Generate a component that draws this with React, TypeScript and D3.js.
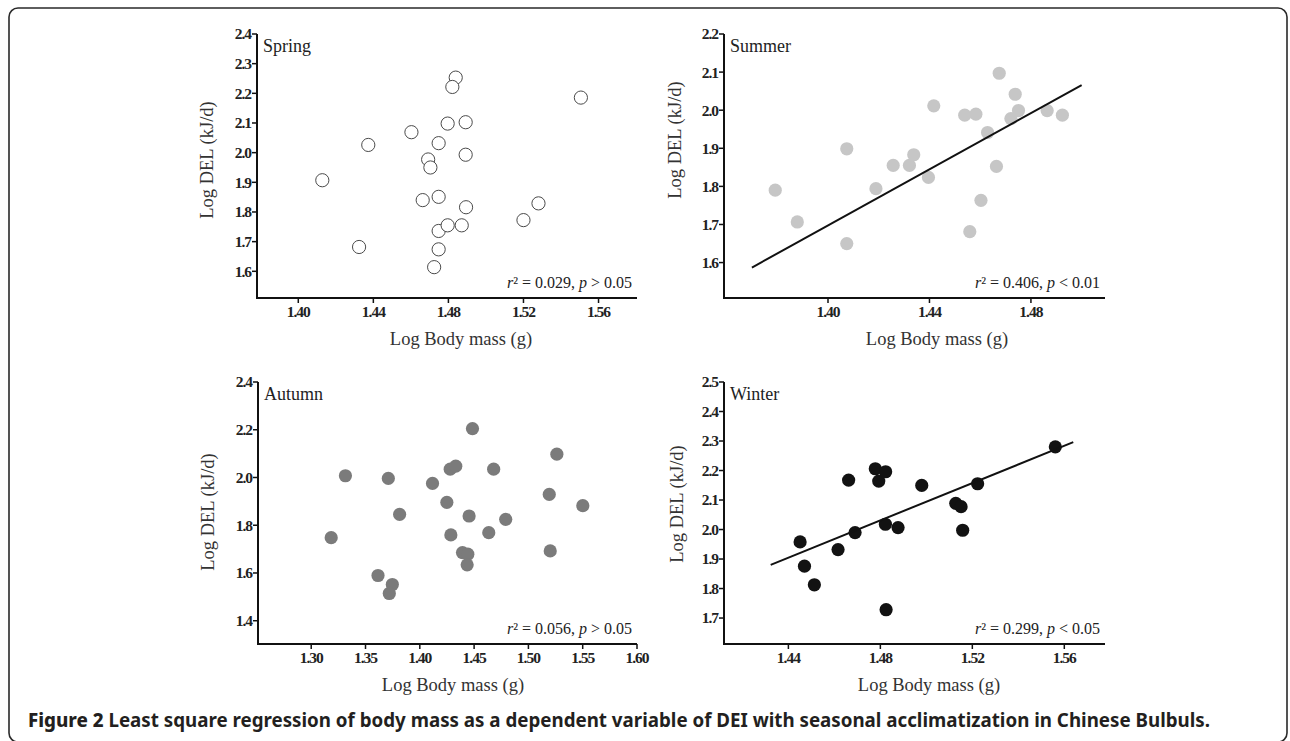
import React from "react";
import * as d3 from "d3";

// ---------- DATA ----------
const springX = [1.4128, 1.4324, 1.4373, 1.4603, 1.4692, 1.4704, 1.4663, 1.4748, 1.4748, 1.4748, 1.4748, 1.4724, 1.4796, 1.4796, 1.4839, 1.4821, 1.4892, 1.4892, 1.4894, 1.4871, 1.52, 1.528, 1.5506];
const springY = [1.907, 1.682, 2.026, 2.069, 1.977, 1.95, 1.84, 2.032, 1.851, 1.736, 1.674, 1.614, 1.755, 2.098, 2.253, 2.2215, 2.1026, 1.993, 1.816, 1.755, 1.7726, 1.829, 2.1856];

const summerX = [1.3792, 1.3879, 1.4074, 1.4074, 1.4189, 1.4257, 1.4321, 1.4338, 1.4396, 1.4417, 1.4539, 1.4583, 1.4559, 1.4603, 1.4629, 1.4664, 1.4675, 1.4721, 1.4738, 1.4751, 1.4864, 1.4924];
const summerY = [1.79, 1.7066, 1.8987, 1.6498, 1.7939, 1.855, 1.855, 1.883, 1.8236, 2.0114, 1.9869, 1.9895, 1.6812, 1.7633, 1.9415, 1.8524, 2.097, 1.978, 2.0419, 1.9991, 1.999, 1.987];
const summerLineX = [1.37, 1.5];
const summerLineY = [1.587, 2.066];

const autumnX = [1.3184, 1.3315, 1.3615, 1.371, 1.3747, 1.3719, 1.3814, 1.4117, 1.4249, 1.428, 1.4331, 1.4286, 1.4393, 1.4442, 1.4436, 1.4454, 1.4485, 1.4635, 1.468, 1.4791, 1.5192, 1.5201, 1.5262, 1.5501];
const autumnY = [1.748, 2.0072, 1.5894, 1.996, 1.5518, 1.5142, 1.8457, 1.9752, 1.8958, 2.035, 2.0476, 1.7593, 1.6855, 1.6786, 1.634, 1.8387, 2.205, 1.769, 2.035, 1.8248, 1.9292, 1.6925, 2.0978, 1.8819];

const winterX = [1.4451, 1.447, 1.4513, 1.4616, 1.4662, 1.469, 1.4778, 1.4793, 1.4823, 1.4822, 1.4825, 1.4877, 1.498, 1.5128, 1.5151, 1.5158, 1.5223, 1.5561];
const winterY = [1.958, 1.8758, 1.8127, 1.9321, 2.1676, 1.9896, 2.2059, 2.1642, 2.1958, 2.0178, 1.7282, 2.0065, 2.1496, 2.0887, 2.0775, 1.9975, 2.1552, 2.2803];
const winterLineX = [1.4323, 1.5639];
const winterLineY = [1.8803, 2.2961];

const springXTicks = [1.4, 1.44, 1.48, 1.52, 1.56];
const springYTicks = [1.6, 1.7, 1.8, 1.9, 2.0, 2.1, 2.2, 2.3, 2.4];
const summerXTicks = [1.4, 1.44, 1.48];
const summerYTicks = [1.6, 1.7, 1.8, 1.9, 2.0, 2.1, 2.2];
const autumnXTicks = [1.3, 1.35, 1.4, 1.45, 1.5, 1.55, 1.6];
const autumnYTicks = [1.4, 1.6, 1.8, 2.0, 2.2, 2.4];
const winterXTicks = [1.44, 1.48, 1.52, 1.56];
const winterYTicks = [1.7, 1.8, 1.9, 2.0, 2.1, 2.2, 2.3, 2.4, 2.5];

const seasonNames = ["Spring", "Summer", "Autumn", "Winter"];
const r2Values = ["0.029", "0.406", "0.056", "0.299"];
const pSigns = [">", "<", ">", "<"];
const pValues = ["0.05", "0.01", "0.05", "0.05"];

const captionBold = "Figure 2";
const captionText = " Least square regression of body mass as a dependent variable of DEI with seasonal acclimatization in Chinese Bulbuls.";

// ---------- LAYOUT ----------
const serif = "'Liberation Serif', 'Times New Roman', serif";

type Panel = {
  name: string;
  xs: number[];
  ys: number[];
  lineX?: number[];
  lineY?: number[];
  xTicks: number[];
  yTicks: number[];
  xDomain: [number, number];
  yDomain: [number, number];
  left: number;
  right: number;
  top: number;
  bottom: number;
  fill: string;
  stroke: string;
  xTitleX: number;
  yTitleX: number;
  yTitleY: number;
  r2: string;
  pSign: string;
  p: string;
};

const panels: Panel[] = [
  {
    name: seasonNames[0], xs: springX, ys: springY,
    xTicks: springXTicks, yTicks: springYTicks,
    xDomain: [1.378, 1.5805], yDomain: [1.51, 2.4],
    left: 257, right: 637, top: 34, bottom: 298,
    fill: "#ffffff", stroke: "#4a4a4a",
    xTitleX: 461, yTitleX: 207, yTitleY: 160,
    r2: r2Values[0], pSign: pSigns[0], p: pValues[0],
  },
  {
    name: seasonNames[1], xs: summerX, ys: summerY, lineX: summerLineX, lineY: summerLineY,
    xTicks: summerXTicks, yTicks: summerYTicks,
    xDomain: [1.359, 1.5092], yDomain: [1.507, 2.2],
    left: 724, right: 1105, top: 34, bottom: 298,
    fill: "#c6c6c6", stroke: "none",
    xTitleX: 937, yTitleX: 675, yTitleY: 140,
    r2: r2Values[1], pSign: pSigns[1], p: pValues[1],
  },
  {
    name: seasonNames[2], xs: autumnX, ys: autumnY,
    xTicks: autumnXTicks, yTicks: autumnYTicks,
    xDomain: [1.251, 1.6], yDomain: [1.3025, 2.4],
    left: 258, right: 637, top: 382, bottom: 644,
    fill: "#7b7b7b", stroke: "none",
    xTitleX: 453, yTitleX: 208, yTitleY: 512,
    r2: r2Values[2], pSign: pSigns[2], p: pValues[2],
  },
  {
    name: seasonNames[3], xs: winterX, ys: winterY, lineX: winterLineX, lineY: winterLineY,
    xTicks: winterXTicks, yTicks: winterYTicks,
    xDomain: [1.412, 1.5777], yDomain: [1.612, 2.5],
    left: 724, right: 1105, top: 382, bottom: 644,
    fill: "#121212", stroke: "none",
    xTitleX: 929, yTitleX: 677, yTitleY: 504,
    r2: r2Values[3], pSign: pSigns[3], p: pValues[3],
  },
];

function PanelView({ p }: { p: Panel }) {
  const x = d3.scaleLinear().domain(p.xDomain).range([p.left, p.right]);
  const y = d3.scaleLinear().domain(p.yDomain).range([p.bottom, p.top]);
  const xFmt = d3.format(".2f");
  const yFmt = d3.format(".1f");
  const line = d3
    .line<number>()
    .x((d) => x(d))
    .y((_, i) => y((p.lineY as number[])[i]));
  return (
    <g>
      {p.xs.map((xv, i) => (
        <circle
          key={i}
          cx={x(xv)}
          cy={y(p.ys[i])}
          r={6.6}
          fill={p.fill}
          stroke={p.stroke}
          strokeWidth={1}
        />
      ))}
      {p.lineX && p.lineY && (
        <path d={line(p.lineX) || ""} stroke="#111" strokeWidth={2} fill="none" />
      )}
      <line x1={p.left} x2={p.left} y1={y(p.yDomain[1])} y2={p.bottom + 1} stroke="#111" strokeWidth={2} />
      <line x1={p.left - 1} x2={p.right} y1={p.bottom} y2={p.bottom} stroke="#111" strokeWidth={2} />
      {p.yTicks.map((t) => (
        <g key={"y" + t}>
          <line x1={p.left - 5} x2={p.left} y1={y(t)} y2={y(t)} stroke="#111" strokeWidth={1.5} />
          <text
            x={p.left - 6}
            y={y(t)}
            dy="0.35em"
            textAnchor="end"
            fontFamily={serif}
            fontWeight="bold"
            fontSize={15.5}
            fill="#222"
            letterSpacing={-1}
          >
            {yFmt(t)}
          </text>
        </g>
      ))}
      {p.xTicks.map((t) => (
        <g key={"x" + t}>
          <line x1={x(t)} x2={x(t)} y1={p.bottom} y2={p.bottom + 5} stroke="#111" strokeWidth={1.5} />
          <text
            x={x(t)}
            y={p.bottom + 19}
            textAnchor="middle"
            fontFamily={serif}
            fontWeight="bold"
            fontSize={15.5}
            fill="#222"
            letterSpacing={-1}
          >
            {xFmt(t)}
          </text>
        </g>
      ))}
      <text x={p.left + 6} y={p.top + 18} fontFamily={serif} fontSize={18} fill="#222">
        {p.name}
      </text>
      <text x={p.xTitleX} y={p.bottom + 47} textAnchor="middle" fontFamily={serif} fontSize={18.5} fill="#333">
        Log Body mass (g)
      </text>
      <text
        transform={`translate(${p.yTitleX},${p.yTitleY}) rotate(-90)`}
        textAnchor="middle"
        dy="0.35em"
        fontFamily={serif}
        fontSize={18.5}
        fill="#333"
      >
        Log DEL (kJ/d)
      </text>
      <text x={p.right - 5} y={p.bottom - 10} textAnchor="end" fontFamily={serif} fontSize={16} fill="#222">
        <tspan fontStyle="italic">r</tspan>
        <tspan>{"² = " + p.r2 + ", "}</tspan>
        <tspan fontStyle="italic">p</tspan>
        <tspan>{" " + p.pSign + " " + p.p}</tspan>
      </text>
    </g>
  );
}

export default function App() {
  return (
    <svg
      width={1290}
      height={741}
      style={{ position: "absolute", left: 0, top: 0, background: "#fff" }}
    >
      <rect x={0} y={0} width={1290} height={741} fill="#fff" />
      <rect x={9} y={8} width={1278} height={734} rx={9} ry={9} fill="none" stroke="#2a2a2a" strokeWidth={1.6} />
      {panels.map((p) => (
        <PanelView key={p.name} p={p} />
      ))}
      <text
        x={28}
        y={727}
        fontFamily="'Noto Sans', 'Open Sans', sans-serif"
        fontSize={19}
        fontWeight="bold"
        fill="#231f20"
        textLength={1182}
        lengthAdjust="spacingAndGlyphs"
      >
        <tspan fontWeight={800}>{captionBold}</tspan>
        <tspan>{captionText}</tspan>
      </text>
    </svg>
  );
}
